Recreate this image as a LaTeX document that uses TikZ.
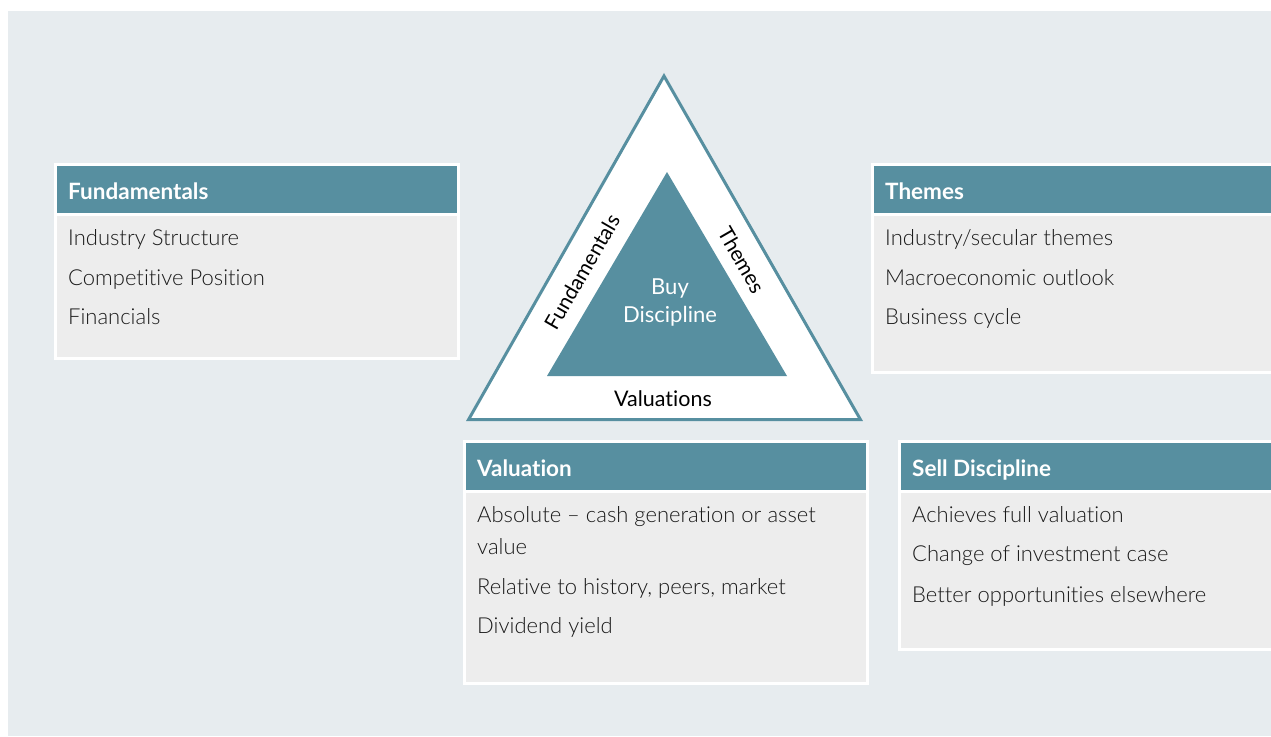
\documentclass[tikz,border=0pt]{standalone}
\usepackage{fontspec}
\setmainfont[Ligatures=NoCommon]{Lato}
\newfontfamily\lightfont[Ligatures=NoCommon]{Lato Light}
\definecolor{boxteal}{RGB}{87,143,160}
\definecolor{panel}{RGB}{231,236,239}
\definecolor{boxbody}{RGB}{237,237,237}
\definecolor{ink}{RGB}{26,26,26}
\tikzset{
  head/.style={anchor=base west, inner sep=0pt, text=white, font=\fontsize{22.5}{26}\selectfont\bfseries},
  item/.style={anchor=base west, inner sep=0pt, text=ink, font=\lightfont\fontsize{22}{26}\selectfont},
  side/.style={inner sep=0pt, text=black, font=\fontsize{21}{25}\selectfont},
}
\begin{document}
\begin{tikzpicture}[x=1pt,y=1pt]
\useasboundingbox (0,0) rectangle (1271,-736);
\clip (0,0) rectangle (1271,-736);
\fill[white] (0,0) rectangle (1271,-736);
\fill[panel] (8,-11) rectangle (1271,-736);

% Fundamentals panel
\fill[white] (54,-163) rectangle (460,-360);
\fill[boxteal] (57,-166) rectangle (457,-213);
\fill[boxbody] (57,-215.5) rectangle (457,-357);
\node[head] (fhead) at (68,-199) {Fundamentals};
\node[item] (f1) at (68,-245) {Industry Structure};
\node[item] (f2) at (68,-285) {Competitive Position};
\node[item] (f3) at (68,-324) {Financials};

% Themes panel
\fill[white] (871,-163) rectangle (1280,-374);
\fill[boxteal] (874,-166) rectangle (1280,-213);
\fill[boxbody] (874,-215.5) rectangle (1280,-371);
\node[head] (thead) at (885,-199) {Themes};
\node[item] (t1) at (885,-245) {Industry/secular themes};
\node[item] (t2) at (885,-285) {Macroeconomic outlook};
\node[item] (t3) at (885,-324) {Business cycle};

% Valuation panel
\fill[white] (463,-440) rectangle (869,-685);
\fill[boxteal] (466,-443) rectangle (866,-490);
\fill[boxbody] (466,-492.5) rectangle (866,-682);
\node[head] (vhead) at (477,-476) {Valuation};
\node[item] (v1) at (477,-522) {Absolute – cash generation or asset};
\node[item] (v1b) at (477,-554) {value};
\node[item] (v2) at (477,-594) {Relative to history, peers, market};
\node[item] (v3) at (477,-633) {Dividend yield};

% Sell discipline panel
\fill[white] (898,-440) rectangle (1280,-651);
\fill[boxteal] (901,-443) rectangle (1280,-490);
\fill[boxbody] (901,-492.5) rectangle (1280,-648);
\node[head] (shead) at (912,-476) {Sell Discipline};
\node[item] (s1) at (912,-522) {Achieves full valuation};
\node[item] (s2) at (912,-561) {Change of investment case};
\node[item] (s3) at (912,-602) {Better opportunities elsewhere};

% Buy discipline triangle
\draw[boxteal, line width=3pt, fill=white, line join=miter]
  (468.6,-419.5) -- (664,-76) -- (860.4,-419.5) -- cycle;
\fill[boxteal] (547,-376) -- (667,-172) -- (787,-376) -- cycle;
\node[inner sep=0pt, text=white, align=center, font=\fontsize{22}{28}\selectfont] (buy) at (670,-303) {Buy\\Discipline};
\node[side, anchor=base, font=\fontsize{21.5}{25}\selectfont] (val) at (663,-406) {Valuations};
\node[side, rotate=60] (fund) at (582,-272) {Fundamentals};
\node[side, rotate=-60] (them) at (742,-260) {Themes};
\end{tikzpicture}
\end{document}
